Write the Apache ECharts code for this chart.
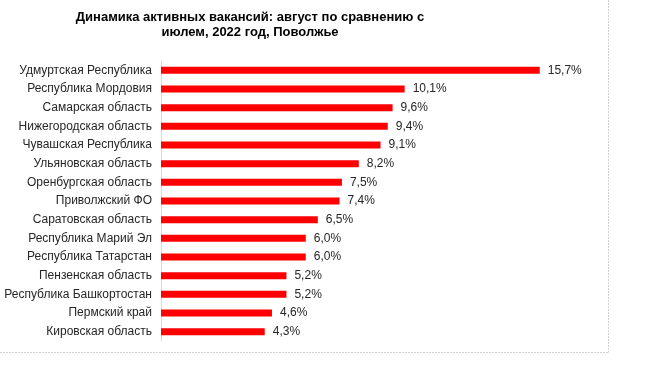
<!DOCTYPE html>
<html><head><meta charset="utf-8">
<script src="https://cdn.jsdelivr.net/npm/echarts@6/dist/echarts.min.js"></script>
<style>html,body{margin:0;padding:0;background:#fff}#c{width:645px;height:375px}</style>
</head><body><div id="c"></div>
<script>
const categories = ["Удмуртская Республика","Республика Мордовия","Самарская область","Нижегородская область","Чувашская Республика","Ульяновская область","Оренбургская область","Приволжский ФО","Саратовская область","Республика Марий Эл","Республика Татарстан","Пензенская область","Республика Башкортостан","Пермский край","Кировская область"];
const values = [15.7,10.1,9.6,9.4,9.1,8.2,7.5,7.4,6.5,6.0,6.0,5.2,5.2,4.6,4.3];
const titleText = "Динамика активных вакансий: август по сравнению с\nиюлем, 2022 год, Поволжье";

const chart = echarts.init(document.getElementById('c'), null, {renderer:'canvas'});
chart.setOption({
  animation:false,
  title:{text:titleText,left:245,top:5,textAlign:'center',
    textStyle:{fontFamily:'Liberation Sans, Arial',fontSize:13,fontWeight:'bold',color:'#000',lineHeight:15}},
  grid:{left:161,top:61,width:386,height:280,containLabel:false},
  xAxis:{type:'value',min:0,max:16,show:false,splitLine:{show:false}},
  yAxis:{type:'category',data:categories,inverse:true,
    axisLine:{show:true,lineStyle:{color:'#d9d9d9',width:1}},
    axisTick:{show:false},
    axisLabel:{margin:9,fontFamily:'Liberation Sans, Arial',fontSize:12,color:'#262626'}},
  series:[{type:'bar',data:values,barWidth:7,itemStyle:{color:'#ff0000'},
    label:{show:true,position:'right',distance:8,fontFamily:'Liberation Sans, Arial',fontSize:12,color:'#262626',
      formatter:p=>p.value.toFixed(1).replace('.',',')+'%'}}],
  graphic:[
    {type:'line',shape:{x1:0,y1:352.5,x2:608.5,y2:352.5},style:{stroke:'#d0d0d0',lineWidth:1,lineDash:[2,1]}},
    {type:'line',shape:{x1:608.5,y1:0,x2:608.5,y2:352.5},style:{stroke:'#d0d0d0',lineWidth:1,lineDash:[2,1]}}
  ]
});
</script></body></html>
